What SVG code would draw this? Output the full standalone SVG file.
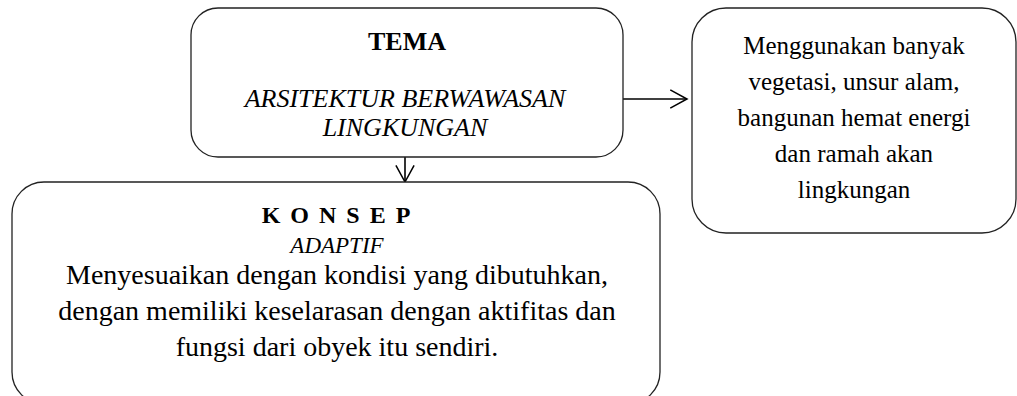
<svg xmlns="http://www.w3.org/2000/svg" width="1017" height="396" viewBox="0 0 1017 396">
<style>
.box{fill:#fff;stroke:#222;stroke-width:1.3}
.t{font-family:"Liberation Serif","DejaVu Serif",serif;fill:#000;text-anchor:middle}
.b{font-weight:bold}
.i{font-style:italic}
.con{stroke:#000;stroke-width:1.6;fill:none}
</style>
<defs>
<marker id="arr" markerUnits="userSpaceOnUse" markerWidth="22" markerHeight="22" refX="17.5" refY="9.5" orient="auto" viewBox="-2 -2 22 23">
<path d="M0,0 L17.5,9.5 L0,19" fill="none" stroke="#000" stroke-width="1.6"/>
</marker>
</defs>
<rect width="1017" height="396" fill="#fff"/>
<g id="connectors">
<line class="con" x1="405" y1="157" x2="405" y2="182" marker-end="url(#arr)"/>
<line class="con" x1="623" y1="99" x2="687" y2="99" marker-end="url(#arr)"/>
</g>
<g id="tema">
<rect class="box" x="191" y="8" width="432" height="149" rx="27" ry="27"/>
<text class="t b" x="407" y="50" font-size="26">TEMA</text>
<text class="t i" x="405" y="107" font-size="26">ARSITEKTUR BERWAWASAN</text>
<text class="t i" x="405" y="136" font-size="26">LINGKUNGAN</text>
</g>
<g id="ciri">
<rect class="box" x="692" y="8" width="324" height="225" rx="34" ry="34"/>
<text class="t" x="854" y="54" font-size="25">Menggunakan banyak</text>
<text class="t" x="854" y="90" font-size="25">vegetasi, unsur alam,</text>
<text class="t" x="854" y="126" font-size="25">bangunan hemat energi</text>
<text class="t" x="854" y="162" font-size="25">dan ramah akan</text>
<text class="t" x="854" y="198" font-size="25">lingkungan</text>
</g>
<g id="konsep">
<rect class="box" x="12" y="182" width="648" height="222" rx="32" ry="32"/>
<text class="t b" x="337" y="223" font-size="24" letter-spacing="2">K O N S E P</text>
<text class="t i" x="337" y="253" font-size="23">ADAPTIF</text>
<text class="t" x="337" y="284" font-size="28">Menyesuaikan dengan kondisi yang dibutuhkan,</text>
<text class="t" x="337" y="320" font-size="28">dengan memiliki keselarasan dengan aktifitas dan</text>
<text class="t" x="337" y="356" font-size="28">fungsi dari obyek itu sendiri.</text>
</g>
</svg>
